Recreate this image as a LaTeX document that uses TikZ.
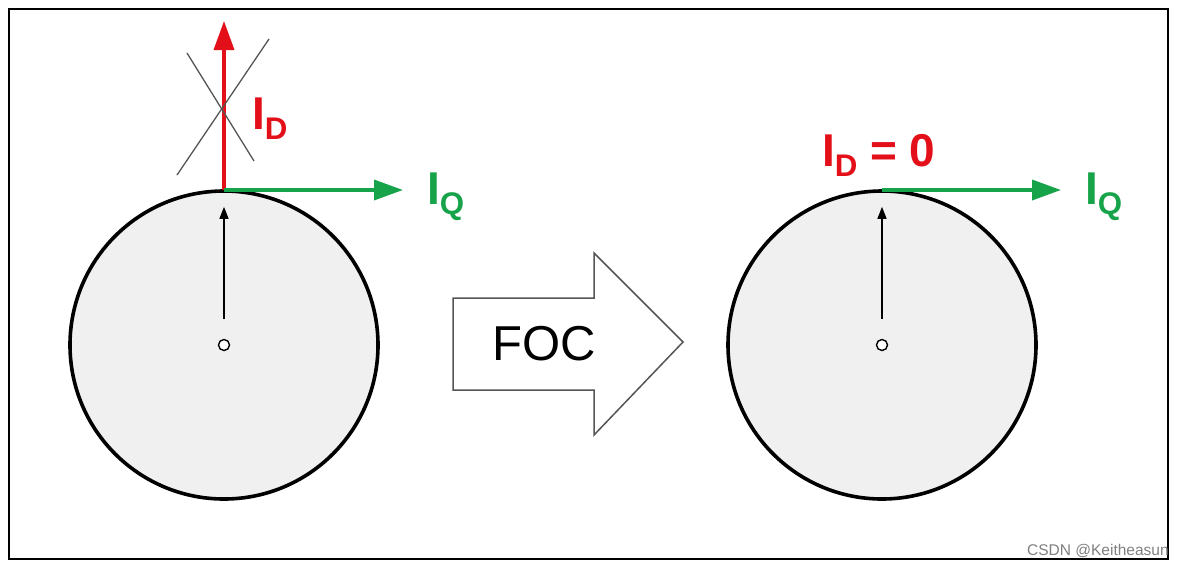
\documentclass[tikz,border=0pt]{standalone}
\usepackage{fontspec}
\setmainfont{Liberation Sans}
\usetikzlibrary{arrows.meta,positioning,calc}
\definecolor{rojo}{HTML}{E3101A}
\definecolor{verde}{HTML}{17A34A}
\definecolor{relleno}{HTML}{F0F0F0}
\definecolor{gris}{HTML}{555555}
\newcommand\subi[1]{\raisebox{-0.22em}{\scalebox{0.68}{#1}}}

\begin{document}
\begin{tikzpicture}[x=1pt, y=-1pt,
  rotor/.style={circle, draw=black, line width=3.6pt, fill=relleno, minimum size=308pt, inner sep=0pt},
  eje/.style={circle, draw=black, line width=1.4pt, fill=white, minimum size=11pt, inner sep=0pt},
  etiq/.style={font=\fontsize{46}{46}\selectfont\bfseries, inner sep=0pt, anchor=base west},
  flecha/.style={-{Triangle[length=29pt, width=20pt]}, line width=3.6pt},
  radio/.style={-{Triangle[length=12pt, width=9pt]}, line width=1.4pt, black},
  tacha/.style={gris, line width=1.3pt}]
\useasboundingbox (0,0) rectangle (1182,566);
\draw[line width=2pt] (9,9) rectangle (1168,559);
% rotor izquierdo
\node[rotor] (rotizq) at (224,345) {};
\node[eje] (ejeizq) at (224,345) {};
\coordinate (topizq) at (224,190);
\coordinate (dizq) at (224,21);
\coordinate (qizq) at (403,190);
\draw[flecha, rojo] (topizq) -- (dizq);
\draw[flecha, verde] (topizq) -- (qizq);
\draw[radio] ($(ejeizq.north)+(0,-20)$) -- ++(0,-112);
\coordinate (ta) at (177,175); \coordinate (tb) at (269,39);
\coordinate (tc) at (187,53);  \coordinate (td) at (254,161);
\draw[tacha] (ta) -- (tb); \draw[tacha] (tc) -- (td);
\node[etiq, rojo] (labd) at (252,129) {I\subi{D}};
\node[etiq, verde] (labq) at (427,204) {I\subi{Q}};
% flecha FOC
\draw[gris, line width=1.5pt, fill=white]
  (453,298) -- (594,298) -- (594,253) -- (683,342) -- (594,435) -- (594,390) -- (453,390) -- cycle;
\node[font=\fontsize{49}{49}\selectfont, inner sep=0pt] (foc) at (544,344) {FOC};
% rotor derecho
\node[rotor] (rotder) at (882,345) {};
\node[eje] (ejeder) at (882,345) {};
\coordinate (topder) at (882,190);
\coordinate (qder) at (1061,190);
\draw[flecha, verde] (topder) -- (qder);
\draw[radio] ($(ejeder.north)+(0,-20)$) -- ++(0,-112);
\node[etiq, rojo] (labd0) at (822,166) {I\subi{D} = 0};
\node[etiq, verde] (labq2) at (1085,204) {I\subi{Q}};
\node[font=\fontsize{15.5}{15.5}\selectfont, text=gray, anchor=base west, inner sep=0pt] (marca) at (1027,555) {CSDN @Keitheasun};
\end{tikzpicture}
\end{document}
